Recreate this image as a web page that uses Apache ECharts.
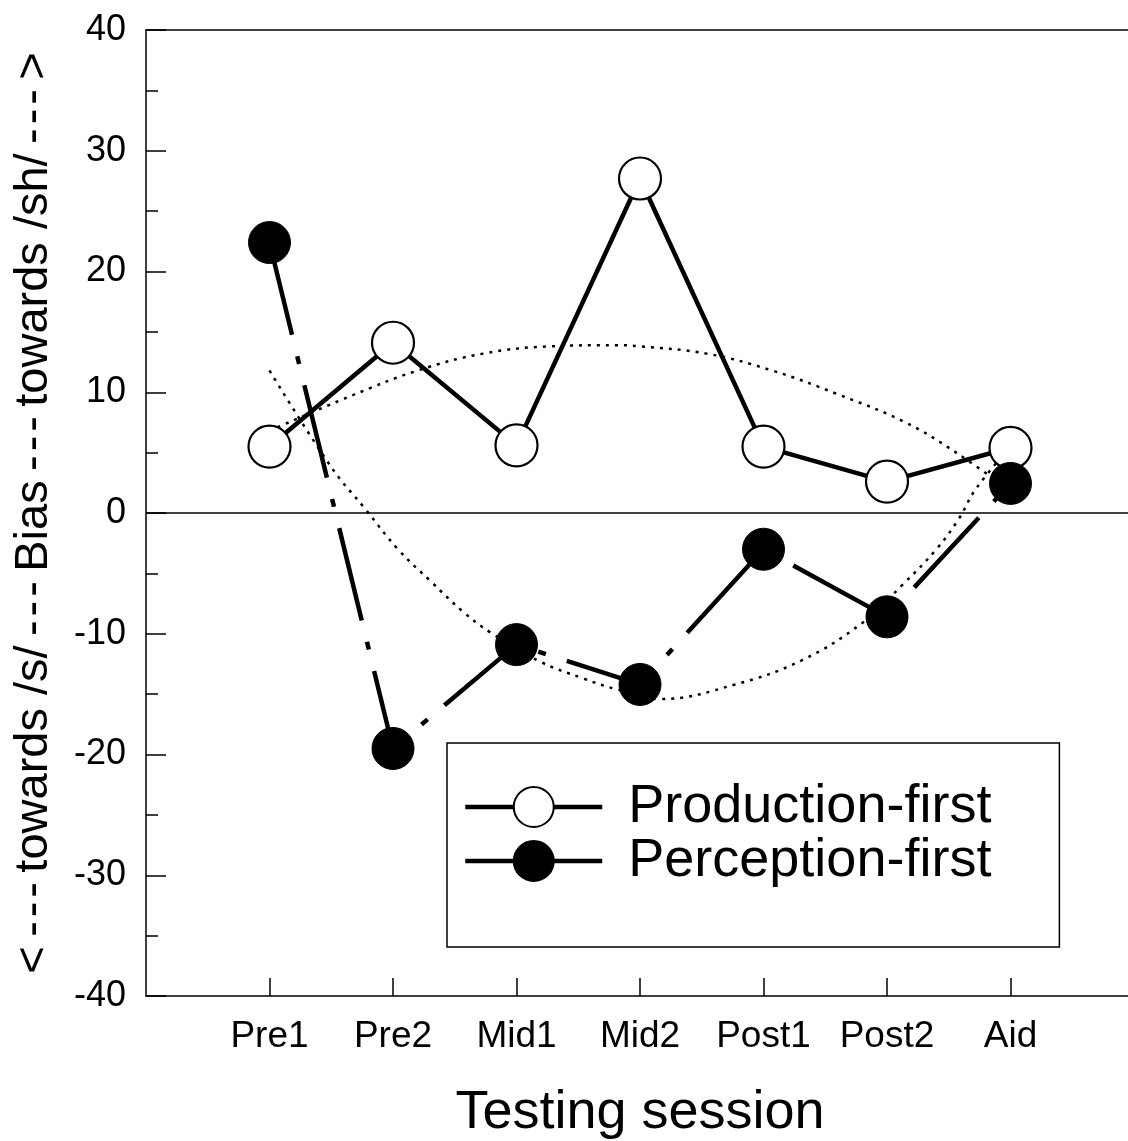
<!DOCTYPE html>
<html>
<head>
<meta charset="utf-8">
<script src="https://cdn.jsdelivr.net/npm/echarts@6/dist/echarts.min.js"></script>
<style>
html,body{margin:0;padding:0;background:#fff;}
#chart{width:1128px;height:1141px;}
</style>
</head>
<body>
<div id="chart"></div>
<script>
const categories = ['Pre1', 'Pre2', 'Mid1', 'Mid2', 'Post1', 'Post2', 'Aid'];
const productionFirst = [5.5, 14.1, 5.6, 27.7, 5.5, 2.6, 5.4];
const perceptionFirst = [22.4, -19.5, -10.9, -14.2, -3.0, -8.6, 2.45];
const yTicks = [-40, -30, -20, -10, 0, 10, 20, 30, 40];

// dotted fitted curves (x = session position, 1 = Pre1)
const upperFitX = [1, 1.66, 2.2, 2.73, 3.27, 3.81, 4.0, 4.54, 5.07, 5.61, 6.15, 6.56, 7];
const upperFitY = [6.8, 9.7, 11.8, 13.2, 13.8, 13.9, 13.8, 13.2, 11.8, 9.8, 7.5, 5.0, 1.8];
const lowerFitX = [1, 1.5, 1.77, 2.04, 2.31, 2.57, 2.79, 3.19, 3.54, 3.81, 4.17, 4.77, 5.31, 5.8, 6.12, 6.4, 6.58, 6.72, 7];
const lowerFitY = [11.8, 3.8, 0.4, -3.0, -5.7, -8.2, -9.9, -12.3, -13.7, -14.6, -15.4, -14.2, -12.2, -9.1, -6.0, -3.0, -0.5, 2.0, 5.5];

const FONT = '"Liberation Sans", Arial, Helvetica, sans-serif';
const pos = categories.map((c, i) => i + 1);
const D = '\u2009-\u200A-\u200A-\u2009';
const yTitle = '<' + D + 'towards /s/' + D + 'Bias' + D + 'towards /sh/' + D + '>';

const chart = echarts.init(document.getElementById('chart'), null, {renderer: 'canvas'});
chart.setOption({
  animation: false,
  backgroundColor: '#fff',
  grid: {left: 146, top: 30, width: 988, height: 966, containLabel: false, outerBoundsMode: 'none'},
  legend: {
    data: ['Production-first', 'Perception-first'],
    orient: 'vertical',
    left: 447, top: 743,
    padding: [37, 68, 59, 16],
    itemGap: 0,
    itemWidth: 137, itemHeight: 50,
    borderColor: '#000', borderWidth: 1.5,
    backgroundColor: '#fff',
    textStyle: {fontFamily: FONT, fontSize: 54, color: '#000', lineHeight: 53, padding: [0, 0, 0, 21]},
    lineStyle: {type: 'solid', width: 4.5},
    selectedMode: false
  },
  xAxis: [{
    type: 'value', min: 0, max: 8, interval: 1,
    position: 'bottom',
    axisLine: {show: true, onZero: false, lineStyle: {color: '#000', width: 1.5}},
    axisTick: {show: true, inside: true, length: 18, customValues: pos, lineStyle: {color: '#000', width: 1.5}},
    axisLabel: {show: true, customValues: pos, margin: 22, fontFamily: FONT, fontSize: 37, color: '#000',
      formatter: v => categories[Math.round(v) - 1] || ''},
    splitLine: {show: false},
    name: 'Testing session', nameLocation: 'middle', nameGap: 90,
    nameTextStyle: {fontFamily: FONT, fontSize: 54, color: '#000'}
  }, {
    type: 'value', min: 0, max: 8, position: 'top',
    axisLine: {show: true, onZero: false, lineStyle: {color: '#000', width: 1.5}},
    axisTick: {show: false}, axisLabel: {show: false}, splitLine: {show: false}
  }],
  yAxis: {
    type: 'value', min: -40, max: 40, interval: 10,
    axisLine: {show: true, onZero: false, lineStyle: {color: '#000', width: 1.5}},
    axisTick: {show: true, inside: true, length: 20, lineStyle: {color: '#000', width: 1.5}},
    minorTick: {show: true, splitNumber: 2, length: 12, lineStyle: {color: '#000', width: 1.5}},
    axisLabel: {margin: 20, fontFamily: FONT, fontSize: 36, color: '#000',
      formatter: v => yTicks.includes(v) ? String(v) : ''},
    splitLine: {show: false},
    name: yTitle, nameLocation: 'middle', nameGap: 88,
    nameTextStyle: {fontFamily: FONT, fontSize: 47, color: '#000'}
  },
  series: [
    {
      name: 'upperFit', type: 'line', smooth: 0.4, showSymbol: false, symbol: 'none', z: 1,
      data: upperFitX.map((x, i) => [x, upperFitY[i]]),
      lineStyle: {color: '#000', width: 2.5, type: [3, 6]},
      markLine: {silent: true, symbol: 'none', label: {show: false},
        lineStyle: {color: '#000', width: 1.5, type: 'solid'}, data: [{yAxis: 0}]}
    },
    {
      name: 'lowerFit', type: 'line', smooth: 0.4, showSymbol: false, symbol: 'none', z: 1,
      data: lowerFitX.map((x, i) => [x, lowerFitY[i]]),
      lineStyle: {color: '#000', width: 2.5, type: [3, 6]}
    },
    {
      name: 'Production-first', type: 'line', z: 3,
      data: productionFirst.map((v, i) => [pos[i], v]),
      symbol: 'circle', symbolSize: 42,
      lineStyle: {color: '#000', width: 4.5, type: 'solid'},
      itemStyle: {color: '#fff', borderColor: '#000', borderWidth: 2.2}
    },
    {
      name: 'Perception-first', type: 'line', z: 4,
      data: perceptionFirst.map((v, i) => [pos[i], v]),
      symbol: 'circle', symbolSize: 42,
      lineStyle: {color: '#000', width: 4.5, type: [95, 22, 8, 22]},
      itemStyle: {color: '#000', borderColor: '#000', borderWidth: 1}
    }
  ]
});
</script>
</body>
</html>
